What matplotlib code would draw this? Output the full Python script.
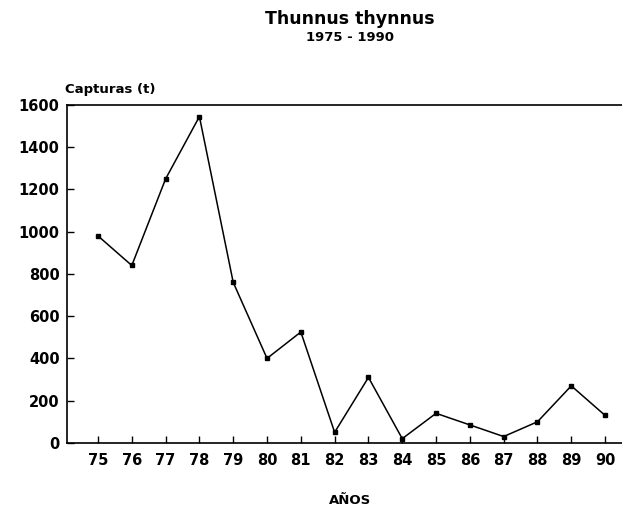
import matplotlib
matplotlib.use("Agg")
import matplotlib.pyplot as plt

years = [75, 76, 77, 78, 79, 80, 81, 82, 83, 84, 85, 86, 87, 88, 89, 90]
catches = [980, 840, 1250, 1545, 760, 400, 525, 50, 310, 20, 140, 85, 30, 100, 270, 130]
year_labels = [str(y) for y in years]
yticks = [0, 200, 400, 600, 800, 1000, 1200, 1400, 1600]

plt.rcParams['font.family'] = ['DejaVu Sans']

fig = plt.figure(figsize=(6.22, 5.12), dpi=100)
ax = fig.add_axes([0.107, 0.135, 0.893, 0.660])

ax.plot(years, catches, color='black', linewidth=1.1, marker='s', markersize=3.2)

ax.set_xlim(74.07, 90.5)
ax.set_ylim(0, 1600)
ax.set_xticks(years)
ax.set_xticklabels(year_labels, fontsize=10.5, fontweight='bold')
ax.set_yticks(yticks)
ax.set_yticklabels([str(v) for v in yticks], fontsize=10.5, fontweight='bold')
ax.tick_params(axis='both', direction='in', length=5, width=1, pad=7)
ax.tick_params(axis='y', pad=5)

ax.spines['right'].set_visible(False)
for s in ['left', 'bottom', 'top']:
    ax.spines[s].set_linewidth(1.2)

fig.text(0.563, 0.962, 'Thunnus thynnus', ha='center', va='center', fontsize=12.5, fontweight='bold')
fig.text(0.563, 0.926, '1975 - 1990', ha='center', va='center', fontsize=9.5, fontweight='bold')
fig.text(0.104, 0.826, 'Capturas (t)', ha='left', va='center', fontsize=9.5, fontweight='bold')
fig.text(0.563, 0.022, 'AÑOS', ha='center', va='center', fontsize=9.5, fontweight='bold')

fig.savefig('out.png', dpi=100)
